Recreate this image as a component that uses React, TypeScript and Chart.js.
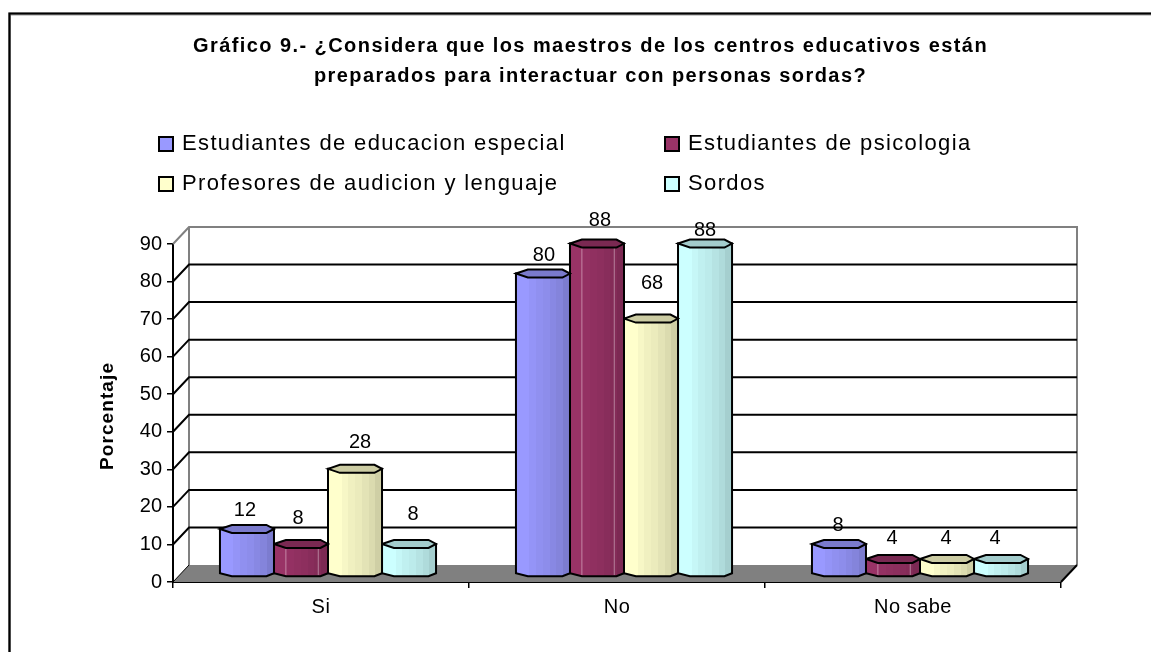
import React, { useEffect, useRef } from "react";
import { Chart, registerables } from "chart.js";

Chart.register(...registerables);

const categories = ["Si", "No", "No sabe"];
const seriesNames = [
  "Estudiantes de educacion especial",
  "Estudiantes de psicologia",
  "Profesores de audicion y lenguaje",
  "Sordos",
];
const educacionEspecial = [12, 80, 8];
const psicologia = [8, 88, 4];
const audicionLenguaje = [28, 68, 4];
const sordos = [8, 88, 4];
const yTicks = [0, 10, 20, 30, 40, 50, 60, 70, 80, 90];
const titleLines = [
  "Gráfico 9.- ¿Considera que los maestros de los centros educativos están",
  "preparados para interactuar con personas sordas?",
];
const axisTitle = "Porcentaje";

const seriesRgb = [
  [153, 153, 255],
  [153, 51, 102],
  [255, 255, 204],
  [204, 255, 255],
];
const bandShade = [1, 1, 0.97, 0.94, 0.92, 0.89, 0.86, 0.81];
// hand placement of the value labels relative to each bar's top centre [dx, dy]
const labelNudge = [
  [[-2, -18], [1, -18], [-1, -18]],
  [[-3, -25], [3, -23], [-1, -20]],
  [[5, -26], [1, -35], [-1, -20]],
  [[4, -29], [0, -13], [-6, -20]],
];

const FONT = '"Liberation Sans", Arial, sans-serif';
const DEPTH_X = 16;
const DEPTH_Y = 17;
const BAR_DX = 7;
const BAR_DY = 8;

const rgb = (c: number[], f = 1) =>
  `rgb(${Math.round(c[0] * f)},${Math.round(c[1] * f)},${Math.round(c[2] * f)})`;

const line = (ctx: any, pts: number[][], color: string, w: number) => {
  ctx.beginPath();
  pts.forEach((p, i) => (i ? ctx.lineTo(p[0], p[1]) : ctx.moveTo(p[0], p[1])));
  ctx.strokeStyle = color;
  ctx.lineWidth = w;
  ctx.stroke();
};

// run one of the library's text-drawing methods with tracking and a small shift
const wrapText = (target: any, method: string, ctx: any, spacing: string, dx = 0, dy = 0) => {
  const original = target[method];
  target[method] = function (...args: any[]) {
    ctx.save();
    ctx.letterSpacing = spacing;
    ctx.translate(dx, dy);
    original.apply(this, args);
    ctx.restore();
  };
};

const framePlugin = {
  id: "frame",
  beforeDraw(chart: any) {
    const { ctx, width, height } = chart;
    if (!chart.$wrapped) {
      chart.$wrapped = true;
      wrapText(chart.titleBlock, "draw", ctx, "1.43px", 12, 1);
      wrapText(chart.scales.y, "drawTitle", ctx, "1.1px", 0, 3);
      wrapText(chart.scales.x, "drawLabels", ctx, "0.5px");
    }
    ctx.save();
    ctx.fillStyle = "#fff";
    ctx.fillRect(0, 0, width, height);
    line(ctx, [[9.5, height], [9.5, 14], [width, 14]], "#999", 3);
    line(ctx, [[9.5, height], [9.5, 13.5], [width, 13.5]], "#000", 2);
    ctx.restore();
  },
};

const wallPlugin = {
  id: "wall",
  beforeDatasetsDraw(chart: any) {
    const { ctx, scales } = chart;
    const y = scales.y;
    const l = scales.x.left;
    const r = scales.x.right;
    const y0 = y.getPixelForValue(0);
    const yTop = y.getPixelForValue(90);
    ctx.save();
    ctx.lineCap = "butt";
    // floor
    ctx.beginPath();
    ctx.moveTo(l, y0);
    ctx.lineTo(l + DEPTH_X, y0 - DEPTH_Y);
    ctx.lineTo(r + DEPTH_X, y0 - DEPTH_Y);
    ctx.lineTo(r, y0);
    ctx.closePath();
    ctx.fillStyle = "#808080";
    ctx.fill();
    // grey wall edges
    line(
      ctx,
      [
        [l, yTop],
        [l + DEPTH_X, yTop - DEPTH_Y],
        [r + DEPTH_X, yTop - DEPTH_Y],
        [r + DEPTH_X, y0 - DEPTH_Y],
      ],
      "#808080",
      2,
    );
    line(ctx, [[l + DEPTH_X, yTop - DEPTH_Y], [l + DEPTH_X, y0 - DEPTH_Y]], "#808080", 2);
    // gridlines, along the side wall and back wall
    yTicks.slice(1, -1).forEach((v) => {
      const py = y.getPixelForValue(v);
      line(ctx, [[l, py], [l + DEPTH_X, py - DEPTH_Y], [r + DEPTH_X, py - DEPTH_Y]], "#000", 2);
    });
    line(ctx, [[r, y0], [r + DEPTH_X, y0 - DEPTH_Y]], "#000", 2);
    line(ctx, [[l, y0], [l + DEPTH_X, y0 - DEPTH_Y]], "#000", 1);
    ctx.restore();
  },
};

const cylinderPlugin = {
  id: "cylinder",
  beforeDatasetDraw(chart: any, args: any) {
    const { ctx } = chart;
    const c = seriesRgb[args.index];
    args.meta.data.forEach((el: any) => {
      const w = el.width;
      const x = el.x - w / 2 + BAR_DX;
      const top = el.y - BAR_DY;
      const base = el.base - BAR_DY;
      const xa = x + w * 0.22;
      const xb = x + w * 0.86;
      ctx.save();
      const g = ctx.createLinearGradient(x, 0, x + w, 0);
      bandShade.forEach((f, i) => {
        g.addColorStop(i / bandShade.length, rgb(c, f));
        g.addColorStop((i + 1) / bandShade.length, rgb(c, f));
      });
      const body = new Path2D();
      body.moveTo(x, top);
      body.lineTo(x + w, top);
      body.lineTo(x + w, base);
      body.lineTo(xb, base + 3);
      body.lineTo(xa, base + 3);
      body.lineTo(x, base);
      body.closePath();
      ctx.fillStyle = g;
      ctx.fill(body);
      if (args.index === 1) {
        line(ctx, [[xa, top], [xa, base + 2]], "rgba(255,255,255,0.4)", 1);
        line(ctx, [[x + w * 0.82, top], [x + w * 0.82, base + 2]], "rgba(255,255,255,0.4)", 1);
      }
      ctx.lineJoin = "miter";
      ctx.strokeStyle = "#000";
      ctx.lineWidth = 2;
      ctx.stroke(body);
      const cap = new Path2D();
      cap.moveTo(x, top);
      cap.lineTo(xa, top - 4);
      cap.lineTo(xb, top - 4);
      cap.lineTo(x + w, top);
      cap.lineTo(xb, top + 4);
      cap.lineTo(xa, top + 4);
      cap.closePath();
      ctx.fillStyle = rgb(c, 0.8);
      ctx.fill(cap);
      ctx.stroke(cap);
      ctx.restore();
    });
    return false;
  },
};

const labelPlugin = {
  id: "labelsAndLegend",
  afterDraw(chart: any) {
    const { ctx } = chart;
    ctx.save();
    ctx.fillStyle = "#000";
    ctx.textAlign = "center";
    ctx.textBaseline = "middle";
    ctx.font = `20px ${FONT}`;
    chart.data.datasets.forEach((ds: any, i: number) => {
      chart.getDatasetMeta(i).data.forEach((el: any, j: number) => {
        const n = labelNudge[i][j];
        ctx.fillText(String(ds.data[j]), el.x + BAR_DX + n[0], el.y - BAR_DY + n[1]);
      });
    });
    // legend: two rows, two aligned columns
    const cols = [159, 665];
    const rows = [144, 184];
    ctx.textAlign = "left";
    ctx.font = `22px ${FONT}`;
    ctx.letterSpacing = "1.36px";
    chart.data.datasets.forEach((ds: any, i: number) => {
      const x = cols[i % 2];
      const y = rows[Math.floor(i / 2)];
      ctx.fillStyle = rgb(seriesRgb[i]);
      ctx.fillRect(x, y - 7, 14, 14);
      ctx.strokeStyle = "#000";
      ctx.lineWidth = 2;
      ctx.strokeRect(x, y - 7, 14, 14);
      ctx.fillStyle = "#000";
      ctx.fillText(ds.label, x + 23, y);
    });
    ctx.restore();
  },
};

export default function App() {
  const ref = useRef<HTMLCanvasElement>(null);
  useEffect(() => {
    document.body.style.margin = "0";
    const chart = new Chart(ref.current as HTMLCanvasElement, {
      type: "bar",
      data: {
        labels: categories,
        datasets: [educacionEspecial, psicologia, audicionLenguaje, sordos].map((data, i) => ({
          label: seriesNames[i],
          data,
          backgroundColor: rgb(seriesRgb[i]),
          borderColor: "#000",
          categoryPercentage: 0.73,
          barPercentage: 1,
        })),
      },
      options: {
        responsive: false,
        animation: false,
        layout: { padding: { left: 96, right: 90, top: 0, bottom: 0 } },
        plugins: {
          legend: { display: false },
          tooltip: { enabled: false },
          title: {
            display: true,
            text: titleLines,
            color: "#000",
            font: { family: FONT, size: 20, weight: "bold", lineHeight: 1.5 },
            padding: { top: 30, bottom: 154 },
          },
        },
        scales: {
          x: {
            afterFit: (s: any) => {
              s.height = 70;
            },
            border: { color: "#000", width: 2 },
            grid: { display: true, drawOnChartArea: false, color: "#000", tickLength: 6, lineWidth: 1.5 },
            ticks: { color: "#000", font: { family: FONT, size: 20 }, padding: 7 },
          },
          y: {
            min: 0,
            max: 90,
            afterFit: (s: any) => {
              s.width = 77;
            },
            border: { color: "#000", width: 2 },
            grid: { display: true, drawOnChartArea: false, color: "#000", tickLength: 6, lineWidth: 1.5 },
            ticks: { stepSize: 10, color: "#000", font: { family: FONT, size: 20 }, padding: 5 },
            title: {
              display: true,
              text: axisTitle,
              color: "#000",
              font: { family: FONT, size: 19, weight: "bold" },
              padding: 0,
            },
          },
        },
      },
      plugins: [framePlugin, wallPlugin, cylinderPlugin, labelPlugin],
    } as any);
    return () => chart.destroy();
  }, []);
  return <canvas ref={ref} width={1151} height={652} style={{ display: "block" }} />;
}
